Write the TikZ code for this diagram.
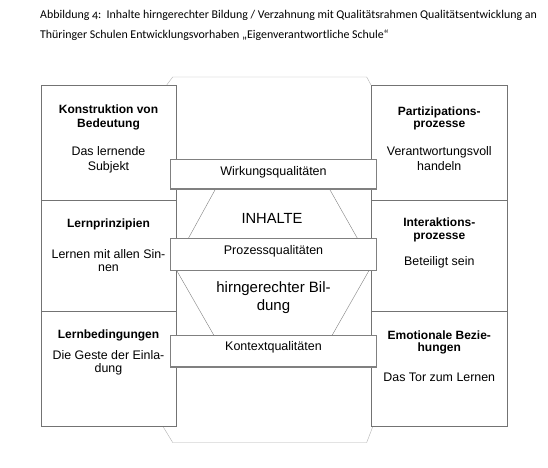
\documentclass[tikz,border=0pt]{standalone}
\usepackage{fontspec}
\setmainfont{Liberation Sans}
\newfontfamily\capfont[Numbers=OldStyle]{Carlito}
\newcommand{\hd}{\fontsize{12}{13.3}\selectfont\bfseries}
\newcommand{\tx}{\fontsize{12.4}{15}\selectfont}

\begin{document}
\begin{tikzpicture}[x=1pt,y=-1pt,
   captext/.style={anchor=base west,inner sep=0,font=\capfont\fontsize{11.9}{13}\selectfont},
   cell/.style={align=center,inner sep=0},
   qbox/.style={fill=white,draw=black!50,line width=1.8pt}]
   \useasboundingbox (0,0) rectangle (548,467);
   \fill[white] (0,0) rectangle (548,467);
   % Beschriftung
   \node[captext] (cap1) at (40,18.5) {Abbildung 4:\ \ Inhalte hirngerechter Bildung / Verzahnung mit Qualitätsrahmen Qualitätsentwicklung an};
   \node[captext] (cap2) at (40,38.5) {Thüringer Schulen Entwicklungsvorhaben „Eigenverantwortliche Schule“};
   % Rahmen
   \draw[black!30] (166.7,85) -- (172.7,77) -- (366.7,77) -- (371,85);
   \draw[black!30] (162.7,426) -- (172.7,442.5) -- (366.7,442.5) -- (373,426);
   % Sechseck
   \draw[black!50] (215.5,189) -- (188.3,238.5);
   \draw[black!50] (329.5,189) -- (357.5,238.5);
   \draw[black!50] (176.7,270.5) -- (214.3,336);
   \draw[black!50] (369,270.5) -- (331.7,336);
   % Spalten
   \draw[black!55,fill=white] (41,85.5) rectangle (176,426);
   \draw[black!55] (41,200) -- (176,200);
   \draw[black!55] (41,311) -- (176,311);
   \draw[black!55,fill=white] (371,85.5) rectangle (507.5,426);
   \draw[black!55] (371,200) -- (507.5,200);
   \draw[black!55] (371,311) -- (507.5,311);
   % Qualitaeten
   \draw[qbox] (170.5,159.5) rectangle (376.5,189);
   \draw[qbox] (170.5,238.5) rectangle (376.5,270.5);
   \draw[qbox] (170.5,335.5) rectangle (376.5,367);
   \node[inner sep=0,font=\fontsize{12.5}{14}\selectfont] (wirk) at (273.5,172.5) {Wirkungsqualitäten};
   \node[inner sep=0,font=\fontsize{12.5}{14}\selectfont] (proz) at (273.5,251.5) {Prozessqualitäten};
   \node[inner sep=0,font=\fontsize{12.5}{14}\selectfont] (kont) at (273.5,347.5) {Kontextqualitäten};
   \node[inner sep=0,font=\fontsize{14.7}{17}\selectfont] (inh) at (272,218.5) {INHALTE};
   \node[cell,font=\fontsize{15}{17.5}\selectfont] (hirn) at (273.5,297.5) {hirngerechter Bil-\\dung};
   % linke Spalte
   \node[cell,font=\hd] (konT) at (108.5,117.5) {Konstruktion von\\Bedeutung};
   \node[cell,font=\tx] (konB) at (108.5,160) {Das lernende\\Subjekt};
   \node[cell,font=\hd] (prinT) at (108.5,224) {Lernprinzipien};
   \node[cell,font=\tx] (prinB) at (108.5,260.5) {Lernen mit allen Sin-\\[-1.5pt]nen};
   \node[cell,font=\hd] (bedT) at (108.5,335) {Lernbedingungen};
   \node[cell,font=\tx] (bedB) at (108.5,362.5) {Die Geste der Einla-\\[-2pt]dung};
   % rechte Spalte
   \node[cell,font=\hd] (parT) at (439.3,118.5) {Partizipations-\\[-1pt]prozesse};
   \node[cell,font=\tx] (parB) at (439.3,159) {Verantwortungsvoll\\handeln};
   \node[cell,font=\hd] (intT) at (439.3,230) {Interaktions-\\[-1pt]prozesse};
   \node[cell,font=\tx] (intB) at (439.3,262.5) {Beteiligt sein};
   \node[cell,font=\hd] (emoT) at (439.3,342.5) {Emotionale Bezie-\\[-1pt]hungen};
   \node[cell,font=\tx] (emoB) at (439.3,377.5) {Das Tor zum Lernen};
\end{tikzpicture}
\end{document}
